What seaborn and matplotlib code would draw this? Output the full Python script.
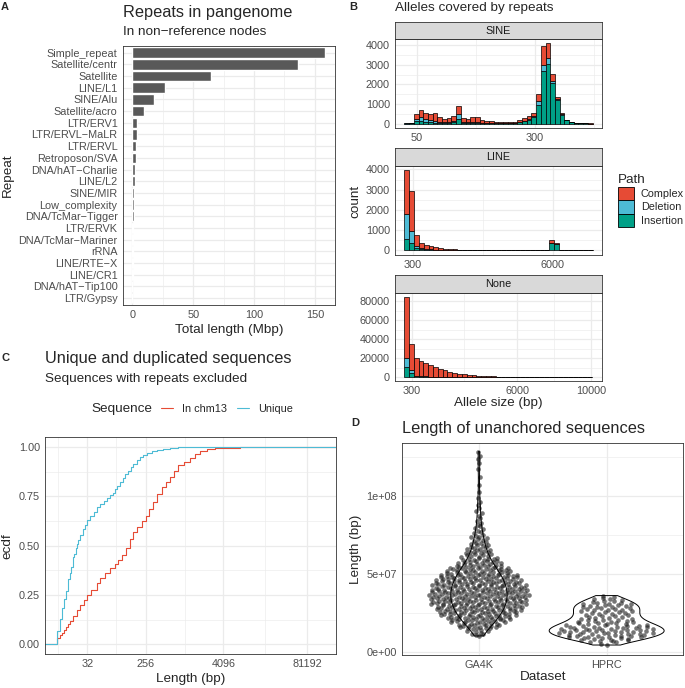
import numpy as np
import pandas as pd
import matplotlib
matplotlib.use("Agg")
import matplotlib.pyplot as plt
from matplotlib.patches import Patch
from matplotlib.lines import Line2D
from matplotlib.ticker import FixedLocator, NullFormatter
import seaborn as sns

# ---------------- data ----------------
# A: repeat classes in non-reference nodes (Mbp)
repeat_names = ["Simple_repeat", "Satellite/centr", "Satellite", "LINE/L1", "SINE/Alu",
                "Satellite/acro", "LTR/ERV1", "LTR/ERVL\u2212MaLR", "LTR/ERVL", "Retroposon/SVA",
                "DNA/hAT\u2212Charlie", "LINE/L2", "SINE/MIR", "Low_complexity",
                "DNA/TcMar\u2212Tigger", "LTR/ERVK", "DNA/TcMar\u2212Mariner", "rRNA",
                "LINE/RTE\u2212X", "LINE/CR1", "DNA/hAT\u2212Tip100", "LTR/Gypsy"]
repeat_mbp = [158.5, 136, 64.3, 26.9, 17.9, 9.2, 3.8, 3.5, 3.3, 3.0, 2.4, 2.2, 1.6,
              1.3, 1.1, 0.8, 0.5, 0.3, 0.25, 0.2, 0.15, 0.1]

# B: allele size histograms (counts per bin, per path type)
path_levels = ["Complex", "Deletion", "Insertion"]
path_colors = {"Complex": "#E64B35", "Deletion": "#4DBBD5", "Insertion": "#00A087"}

sine_start, sine_width = 23, 10
sine_complex = [10, 15, 240, 380, 340, 330, 390, 250, 170, 190, 230, 425, 190, 150, 240, 250,
                140, 100, 100, 60, 50, 45, 45, 40, 90, 140, 150, 170, 385, 960, 730, 340, 120,
                50, 20, 10, 7, 5, 3, 1]
sine_deletion = [5, 5, 100, 170, 120, 100, 70, 40, 30, 40, 60, 240, 40, 30, 40, 40, 25, 20, 20,
                 15, 12, 12, 12, 12, 20, 30, 40, 50, 170, 310, 320, 100, 65, 15, 10, 5, 3, 3, 2, 1]
sine_insertion = [5, 10, 150, 150, 100, 80, 60, 50, 50, 60, 80, 250, 60, 40, 60, 50, 35, 30, 30,
                  25, 23, 23, 28, 33, 80, 120, 200, 320, 965, 2690, 3050, 2100, 1185, 460, 170,
                  70, 30, 22, 15, 8]

line_start, line_width = -53, 197
line_complex = [2185, 1965, 535, 250, 205, 170, 125, 85, 65, 50, 40, 33, 30, 26, 22, 22, 18, 18,
                15, 15, 15, 15, 13, 13, 12, 12, 11, 11, 14, 20, 110, 40, 25, 14, 11, 9, 7, 6, 4]
line_deletion = [1205, 595, 80, 40, 30, 25, 15, 10, 8, 6, 5, 4, 3, 2, 2, 2, 2, 2, 2, 2, 2, 2, 2,
                 2, 1, 1, 1, 1, 2, 3, 30, 20, 5, 2, 1, 1, 1, 1, 1]
line_insertion = [580, 380, 130, 60, 45, 35, 25, 20, 17, 14, 10, 8, 7, 7, 6, 6, 5, 5, 3, 3, 3, 3,
                  3, 3, 3, 3, 3, 3, 4, 7, 360, 300, 10, 4, 3, 2, 1, 1, 1]

none_start, none_width = -116, 261
none_complex = [64500, 27900, 18460, 15900, 13850, 11800, 9850, 8130, 6800, 5440, 4420, 3400,
                2720, 2040, 1700, 1350, 1015, 675, 530, 435, 365, 310, 260, 222, 193, 164, 145,
                125, 106, 96, 87, 77, 67, 58, 53, 48, 43, 38, 34]
none_deletion = [10150, 3000, 500, 300, 250, 200, 150, 120, 100, 80, 60, 45, 40, 30, 25, 20, 15,
                 10, 8, 6, 6, 5, 4, 3, 3, 3, 2, 2, 2, 2, 1, 1, 1, 1, 1, 1, 1, 1, 0]
none_insertion = [10250, 4000, 800, 500, 400, 300, 250, 200, 150, 120, 100, 75, 60, 40, 35, 30,
                  20, 15, 12, 9, 9, 5, 6, 5, 4, 3, 3, 3, 2, 2, 2, 2, 2, 1, 1, 1, 1, 1, 1]

# C: ecdf of sequence lengths (bp, cumulative fraction)
unique_bp = [1, 11, 12, 13, 14, 15, 16, 17, 18, 19, 20, 21, 22, 23, 25, 27, 29, 32, 35, 40, 45,
             50, 57, 64, 72, 79, 86, 93, 103, 113, 124, 136, 150, 165, 186, 209, 236, 265, 317,
             379, 481, 610, 820, 1104, 141000, 10000000]
unique_ecdf = [0, 0.068, 0.13, 0.185, 0.23, 0.27, 0.33, 0.36, 0.39, 0.44, 0.46, 0.49, 0.51, 0.53,
               0.555, 0.585, 0.605, 0.63, 0.648, 0.67, 0.695, 0.712, 0.728, 0.742, 0.755, 0.766,
               0.79, 0.805, 0.825, 0.845, 0.865, 0.88, 0.90, 0.915, 0.935, 0.95, 0.96, 0.968,
               0.978, 0.985, 0.993, 0.998, 0.9995, 1.0, 1.0, 1.0]
chm13_bp = [1, 11, 12, 13, 14, 15, 16, 17, 19, 22, 25, 28, 32, 37, 45, 50, 60, 72, 86, 97, 109,
            127, 146, 165, 186, 222, 256, 292, 336, 388, 453, 528, 610, 703, 820, 1004, 1243,
            1486, 1776, 2252, 3031, 3984, 7381, 141000, 10000000]
chm13_ecdf = [0, 0.03, 0.045, 0.056, 0.07, 0.085, 0.10, 0.12, 0.145, 0.175, 0.20, 0.225, 0.25,
              0.275, 0.31, 0.335, 0.36, 0.385, 0.405, 0.425, 0.455, 0.49, 0.535, 0.57, 0.595,
              0.625, 0.65, 0.685, 0.72, 0.76, 0.80, 0.825, 0.85, 0.88, 0.91, 0.925, 0.945, 0.965,
              0.98, 0.99, 0.995, 0.998, 1.0, 1.0, 1.0]

# D: unanchored sequence lengths, counts per length bin (Mbp)
ga4k_bin_mbp = [10, 15, 20, 25, 30, 35, 40, 45, 50, 55, 60, 65, 70, 75, 80, 85, 90, 95, 100,
                105, 110, 115, 120, 125]
ga4k_counts = [10, 26, 38, 47, 52, 54, 50, 45, 35, 24, 16, 12, 9, 6, 4, 3, 3, 2, 1, 1, 1, 1, 2, 2]
ga4k_bin_width = 5
hprc_bin_mbp = [4, 6.5, 9, 11.5, 14, 16.5, 19, 21.5, 24, 26.5, 29, 31.5, 34]
hprc_counts = [3, 10, 14, 16, 16, 12, 9, 8, 8, 9, 9, 6, 4]
hprc_bin_width = 2.5

# ---------------- style ----------------
sns.set_style("white")
plt.rcParams["font.family"] = ["Liberation Sans", "DejaVu Sans"]
TS, AT, TT = 7.8, 9.7, 11.8

W, H = 685, 688
fig = plt.figure(figsize=(W / 100, H / 100), dpi=100)


def px_axes(l, t, r, b):
    return fig.add_axes([l / W, 1 - b / H, (r - l) / W, (b - t) / H])


def ftext(x, y, s, size, **kw):
    kw.setdefault("va", "center")
    fig.text(x / W, 1 - y / H, s, fontsize=size, **kw)


def theme_bw(ax):
    ax.set_facecolor("white")
    for s in ax.spines.values():
        s.set_visible(True)
        s.set_color("#333333")
        s.set_linewidth(0.6)
    ax.tick_params(which="major", length=2.2, width=0.6, color="#333333",
                   labelcolor="#4D4D4D", labelsize=TS, pad=1.5)
    ax.tick_params(which="minor", length=0)
    ax.grid(True, which="major", color="#EBEBEB", linewidth=0.9)
    ax.grid(True, which="minor", color="#EBEBEB", linewidth=0.45)
    ax.set_axisbelow(True)
    ax.set_xlabel("")
    ax.set_ylabel("")


# ---------------- A ----------------
axA = px_axes(122.7, 45.7, 335, 305)
sns.barplot(x=repeat_mbp, y=repeat_names, color="#595959", saturation=1, width=0.9, ax=axA)
theme_bw(axA)
axA.set_xlim(-7.9, 166.5)
axA.set_ylim(21.6, -0.6)
axA.set_xticks([0, 50, 100, 150])
axA.xaxis.set_minor_locator(FixedLocator([25, 75, 125]))
ftext(5, 7.5, "A", 8, ha="center", weight="bold")
ftext(123, 12, "Repeats in pangenome", TT)
ftext(123, 31.7, "In non\u2212reference nodes", AT)
ftext(229, 330, "Total length (Mbp)", AT, ha="center")
ftext(8, 175, "Repeat", AT, ha="center", rotation=90)

# ---------------- B ----------------
facets = [
    dict(name="SINE", start=sine_start, width=sine_width,
         series=[sine_complex, sine_deletion, sine_insertion],
         strip=(21.7, 39.3), panel=(39.3, 127.7),
         xticks=[50, 300], xminor=[175, 425], xlim=(3, 443),
         yticks=[0, 1000, 2000, 3000, 4000], yminor=[500, 1500, 2500, 3500], ylim=(-205, 4305)),
    dict(name="LINE", start=line_start, width=line_width,
         series=[line_complex, line_deletion, line_insertion],
         strip=(148.3, 166), panel=(166, 254.5),
         xticks=[300, 6000], xminor=[3150], xlim=(-437, 8014),
         yticks=[0, 1000, 2000, 3000, 4000], yminor=[500, 1500, 2500, 3500], ylim=(-198, 4170)),
    dict(name="None", start=none_start, width=none_width,
         series=[none_complex, none_deletion, none_insertion],
         strip=(275, 292.7), panel=(292.7, 381),
         xticks=[300, 6000, 10000], xminor=[3150, 8000], xlim=(-610, 10600),
         yticks=[0, 20000, 40000, 60000, 80000], yminor=[10000, 30000, 50000, 70000],
         ylim=(-4245, 89145)),
]

for f in facets:
    n = len(f["series"][0])
    edges = [f["start"] + f["width"] * i for i in range(n + 1)]
    mids = [e + f["width"] / 2 for e in edges[:-1]]
    df = pd.DataFrame({"size": mids * 3,
                       "count": np.concatenate(f["series"]).astype(float),
                       "Path": np.repeat(path_levels, n)})
    ax = px_axes(395, f["panel"][0], 602, f["panel"][1])
    sns.histplot(data=df, x="size", weights="count", hue="Path", hue_order=path_levels,
                 palette=path_colors, multiple="stack", bins=edges, alpha=1,
                 edgecolor="black", linewidth=0.5, legend=False, ax=ax)
    theme_bw(ax)
    ax.set_xlim(*f["xlim"])
    ax.set_ylim(*f["ylim"])
    ax.set_xticks(f["xticks"])
    ax.xaxis.set_minor_locator(FixedLocator(f["xminor"]))
    ax.set_yticks(f["yticks"])
    ax.yaxis.set_minor_locator(FixedLocator(f["yminor"]))
    # facet strip
    sax = px_axes(395, f["strip"][0], 602, f["strip"][1])
    sax.set_facecolor("#D9D9D9")
    sax.set_xticks([])
    sax.set_yticks([])
    for s in sax.spines.values():
        s.set_visible(True)
        s.set_color("#333333")
        s.set_linewidth(0.6)
    sax.text(0.5, 0.5, f["name"], ha="center", va="center", fontsize=TS, color="#1A1A1A",
             transform=sax.transAxes)

ftext(353, 7.5, "B", 8, ha="center", weight="bold")
ftext(395, 8.3, "Alleles covered by repeats", AT)
ftext(355, 201, "count", AT, ha="center", rotation=90)
ftext(498.5, 403.3, "Allele size (bp)", AT, ha="center")

handles = [Patch(facecolor=path_colors[p], edgecolor="black", linewidth=0.6) for p in path_levels]
fig.legend(handles, path_levels, title="Path", loc="upper left",
           bbox_to_anchor=(618 / W, 1 - 174 / H), frameon=False, fontsize=TS,
           title_fontsize=AT, handlelength=1.5, handleheight=1.5, labelspacing=0.05,
           handletextpad=0.6, borderpad=0, borderaxespad=0, alignment="left")

# ---------------- C ----------------
axC = px_axes(45, 437.3, 336, 654)
sns.lineplot(x=chm13_bp, y=chm13_ecdf, color="#E64B35", drawstyle="steps-post",
             estimator=None, linewidth=0.8, ax=axC)
sns.lineplot(x=unique_bp, y=unique_ecdf, color="#4DBBD5", drawstyle="steps-post",
             estimator=None, linewidth=0.8, ax=axC)
axC.set_xscale("log", base=2)
theme_bw(axC)
breaks = [32, 256, 4096, 81192]
axC.set_xticks(breaks)
axC.set_xticklabels([str(b) for b in breaks])
axC.xaxis.set_minor_locator(FixedLocator([11.3, 90.5, 1024, 18236]))
axC.xaxis.set_minor_formatter(NullFormatter())
axC.set_xlim(2 ** 2.823, 2 ** 17.79)
axC.set_ylim(-0.05, 1.05)
axC.set_yticks([0, 0.25, 0.5, 0.75, 1.0])
axC.set_yticklabels(["0.00", "0.25", "0.50", "0.75", "1.00"])
axC.yaxis.set_minor_locator(FixedLocator([0.125, 0.375, 0.625, 0.875]))

ftext(5.5, 358, "C", 8, ha="center", weight="bold")
ftext(45, 358, "Unique and duplicated sequences", TT)
ftext(45, 379.3, "Sequences with repeats excluded", AT)
ftext(190.5, 679.3, "Length (bp)", AT, ha="center")
ftext(7, 545.7, "ecdf", AT, ha="center", rotation=90)
ftext(121.7, 409, "Sequence", AT, ha="center")
seq_handles = [Line2D([], [], color="#E64B35", linewidth=0.8),
               Line2D([], [], color="#4DBBD5", linewidth=0.8)]
fig.legend(seq_handles, ["In chm13", "Unique"], loc="center left",
           bbox_to_anchor=(161 / W, 1 - 409 / H), ncol=2, frameon=False, fontsize=TS,
           handlelength=1.1, handletextpad=0.8, columnspacing=1.0, borderpad=0,
           borderaxespad=0)

# ---------------- D ----------------


def vdc(n):
    out = []
    for i in range(1, n + 1):
        v, denom, k = 0.0, 1.0, i
        while k:
            denom *= 2
            k, r = divmod(k, 2)
            v += r / denom
        out.append(v)
    return np.array(out)


def quasi_offsets(y, width=0.4, adjust=0.5):
    y = np.asarray(y, float)
    n = len(y)
    q75, q25 = np.percentile(y, [75, 25])
    bw = 0.9 * min(y.std(ddof=1), (q75 - q25) / 1.34) * n ** -0.2 * adjust
    dens = np.exp(-0.5 * ((y[:, None] - y[None, :]) / bw) ** 2).sum(1)
    dens /= dens.max()
    ranks = np.argsort(np.argsort(y, kind="stable"), kind="stable")
    return (vdc(n)[ranks] - 0.5) * 2 * width * dens


def expand(bins, counts, width):
    vals = []
    for lo, n in zip(bins, counts):
        vals += [(lo + (k + 0.5) * width / n) * 1e6 for k in range(n)]
    return vals


ga4k_len = expand(ga4k_bin_mbp, ga4k_counts, ga4k_bin_width)
hprc_len = expand(hprc_bin_mbp, hprc_counts, hprc_bin_width)
dfD = pd.DataFrame({"Dataset": ["GA4K"] * len(ga4k_len) + ["HPRC"] * len(hprc_len),
                    "Length": ga4k_len + hprc_len})

axD = px_axes(402.3, 443.3, 683.3, 655)
for pos, vals in enumerate([ga4k_len, hprc_len]):
    off = quasi_offsets(vals)
    sns.scatterplot(x=pos + off, y=vals, color="#1A1A1A", alpha=0.6, s=11, linewidth=0, ax=axD)
sns.violinplot(data=dfD, x="Dataset", y="Length", order=["GA4K", "HPRC"], fill=False,
               color="black", linewidth=0.7, cut=0, inner=None, density_norm="area",
               width=0.9, bw_method="silverman", bw_adjust=0.85, ax=axD)
theme_bw(axD)
axD.set_xlim(-0.6, 1.6)
axD.set_ylim(-2.0e6, 1.341e8)
axD.set_yticks([0, 5e7, 1e8])
axD.set_yticklabels(["0e+00", "5e+07", "1e+08"])
axD.yaxis.set_minor_locator(FixedLocator([2.5e7, 7.5e7, 1.25e8]))

ftext(355, 423.5, "D", 8, ha="center", weight="bold")
ftext(402.3, 428.3, "Length of unanchored sequences", TT)
ftext(542.8, 677, "Dataset", AT, ha="center")
ftext(356, 549, "Length (bp)", AT, ha="center", rotation=90)

fig.savefig("out.png", dpi=100)
